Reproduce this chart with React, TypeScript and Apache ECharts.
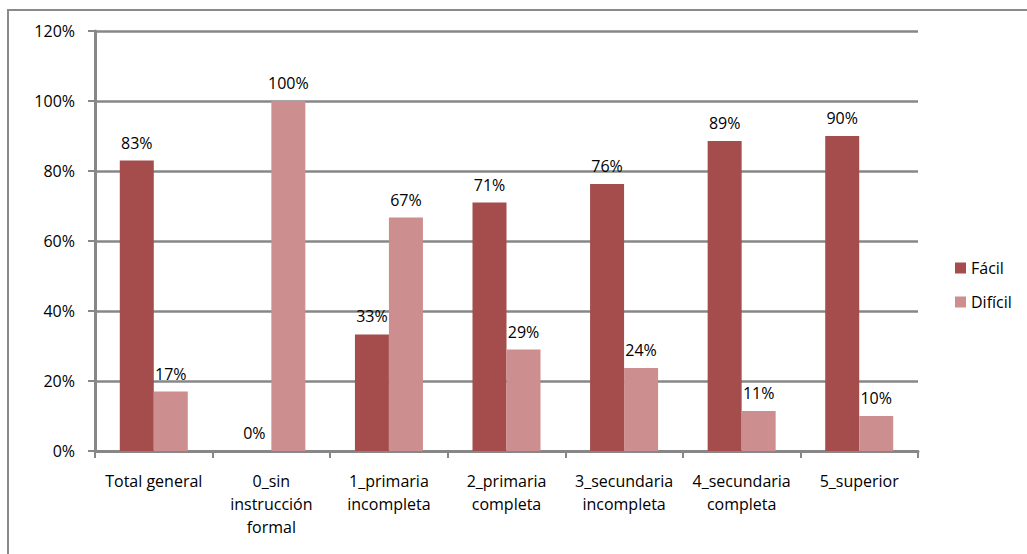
import React, { useEffect, useRef } from "react";
import * as echarts from "echarts";

const categories = [
  "Total general",
  "0_sin\ninstrucción\nformal",
  "1_primaria\nincompleta",
  "2_primaria\ncompleta",
  "3_secundaria\nincompleta",
  "4_secundaria\ncompleta",
  "5_superior",
];
const facil = [83, 0, 33.3, 71, 76.3, 88.6, 90];
const dificil = [17, 100, 66.7, 29, 23.7, 11.4, 10];
const yTicks = [0, 20, 40, 60, 80, 100, 120];

const FONT = "'Open Sans', Lato, sans-serif";
const FS = 16;
const GRID = "#878787";

export default function App() {
  const ref = useRef<HTMLDivElement>(null);
  useEffect(() => {
    const chart = echarts.init(ref.current!, null, { renderer: "svg" });
    const label = {
      show: true,
      position: "top" as const,
      distance: 10,
      color: "#000",
      fontFamily: FONT,
      fontSize: FS,
      formatter: (p: any) => Math.round(p.value) + "%",
    };
    chart.setOption({
      animation: false,
      backgroundColor: "#fff",
      graphic: [
        {
          type: "rect",
          shape: { x: 8, y: 10, width: 1040, height: 600 },
          style: { fill: "none", stroke: "#8a8a8a", lineWidth: 2 },
          silent: true,
        },
      ],
      grid: { left: 95, right: 109, top: 31, bottom: 103 },
      legend: {
        orient: "vertical",
        left: 955,
        top: 258,
        padding: 0,
        itemWidth: 11,
        itemHeight: 11,
        itemGap: 14,
        icon: "rect",
        textStyle: { fontFamily: FONT, fontSize: FS, color: "#000", lineHeight: 20 },
        data: ["Fácil", "Difícil"],
      },
      xAxis: {
        type: "category",
        data: categories,
        axisLine: { lineStyle: { color: GRID, width: 3 } },
        axisTick: { show: true, length: 7, lineStyle: { color: GRID, width: 2 } },
        axisLabel: {
          interval: 0,
          margin: 18,
          color: "#000",
          fontFamily: FONT,
          fontSize: FS,
          lineHeight: 23,
        },
      },
      yAxis: {
        type: "value",
        min: 0,
        max: 120,
        interval: 20,
        axisLine: { show: true, lineStyle: { color: GRID, width: 3 } },
        axisTick: { show: true, length: 7, lineStyle: { color: GRID, width: 2 } },
        splitLine: { lineStyle: { color: GRID, width: 2.5 } },
        axisLabel: {
          margin: 20,
          color: "#000",
          fontFamily: FONT,
          fontSize: FS,
          formatter: (v: number) => (yTicks.includes(v) ? v + "%" : ""),
        },
      },
      series: [
        {
          name: "Fácil",
          type: "bar",
          data: facil,
          barWidth: 34,
          barGap: "0%",
          itemStyle: { color: "#A54C4C" },
          label,
        },
        {
          name: "Difícil",
          type: "bar",
          data: dificil,
          barWidth: 34,
          barGap: "0%",
          itemStyle: { color: "#CC8E8F" },
          label,
        },
      ],
    });
    return () => chart.dispose();
  }, []);
  return (
    <div
      ref={ref}
      style={{ position: "absolute", left: 0, top: 0, width: 1027, height: 554 }}
    />
  );
}
